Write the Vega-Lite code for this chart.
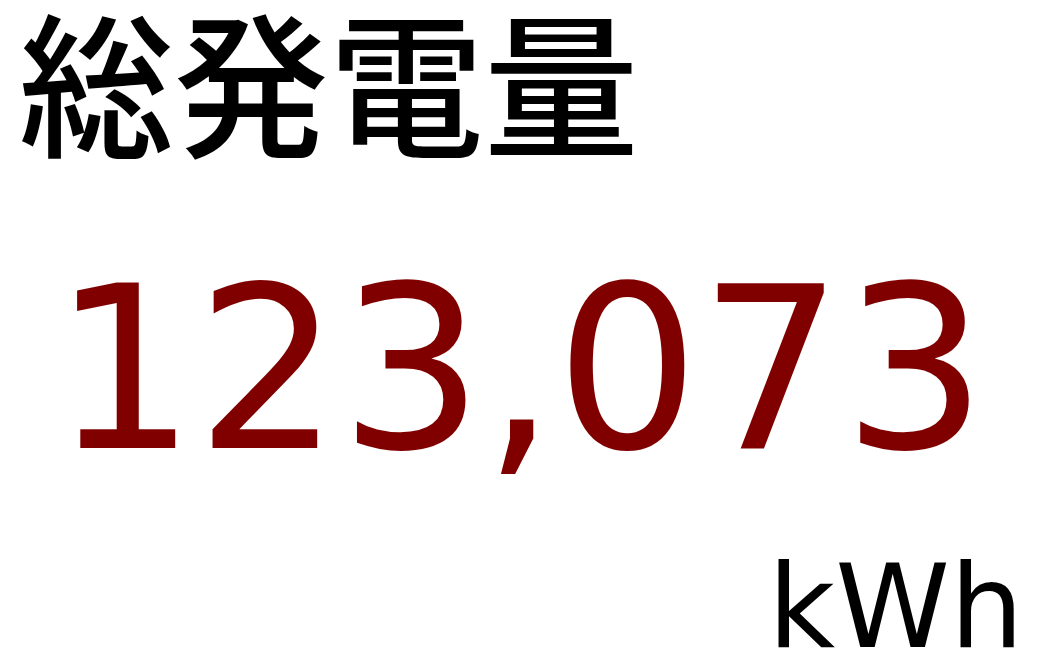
{
  "$schema": "https://vega.github.io/schema/vega-lite/v6.json",
  "description": "総発電量 KPI",
  "width": 1039,
  "height": 670,
  "autosize": {"type": "fit", "contains": "padding"},
  "padding": 0,
  "background": "white",
  "config": {"view": {"stroke": null}},
  "data": {"values": [{"label": "総発電量", "value": 123073, "unit": "kWh"}]},
  "encoding": {
    "x": {"type": "quantitative", "scale": {"domain": [0, 1]}, "axis": null},
    "y": {"type": "quantitative", "scale": {"domain": [0, 1], "reverse": true}, "axis": null}
  },
  "layer": [
    {
      "mark": {"type": "text", "align": "left", "baseline": "alphabetic", "font": "Noto Sans CJK JP", "fontWeight": 500, "fontSize": 155, "color": "black"},
      "encoding": {
        "x": {"datum": 0.018},
        "y": {"datum": 0.217},
        "text": {"field": "label"}
      }
    },
    {
      "mark": {"type": "text", "align": "center", "baseline": "alphabetic", "font": "DejaVu Sans", "fontSize": 226, "color": "#800000"},
      "encoding": {
        "x": {"datum": 0.5},
        "y": {"datum": 0.673},
        "text": {"field": "value", "format": ","}
      }
    },
    {
      "mark": {"type": "text", "align": "right", "baseline": "alphabetic", "font": "DejaVu Sans", "fontSize": 116, "color": "black"},
      "encoding": {
        "x": {"datum": 0.985},
        "y": {"datum": 0.971},
        "text": {"field": "unit"}
      }
    }
  ]
}
